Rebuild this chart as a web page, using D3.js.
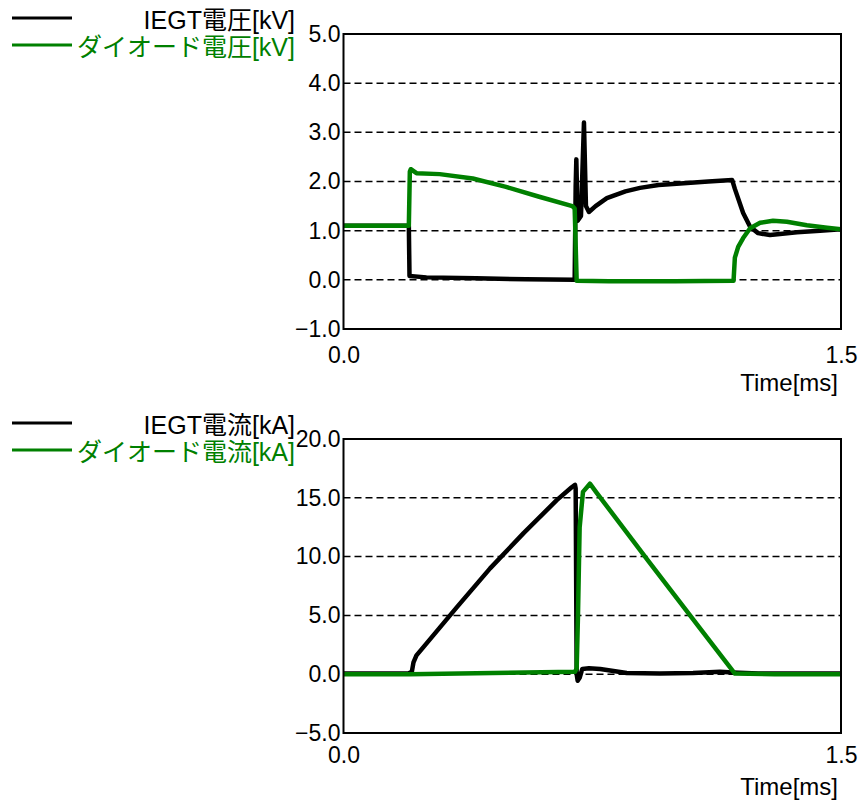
<!DOCTYPE html>
<html><head><meta charset="utf-8">
<script src="https://cdn.jsdelivr.net/npm/d3@7"></script>
<style>
html,body{margin:0;padding:0;background:#fff;}
text{font-family:"Liberation Sans","Noto Sans CJK JP",sans-serif;}
</style></head>
<body><svg id="c" width="863" height="803"></svg>
<script>
// ---------- data ----------
const xTicks = [0, 1.5];
const voltTicks = [-1, 0, 1, 2, 3, 4, 5];
const currTicks = [-5, 0, 5, 10, 15, 20];
const xLabel = "Time[ms]";
const voltNames = ["IEGT電圧[kV]", "ダイオード電圧[kV]"];
const currNames = ["IEGT電流[kA]", "ダイオード電流[kA]"];
const colors = ["#000000", "#008000"];

// [time ms, kV]
const iegtVoltage = [
  [0,1.10],[0.197,1.10],[0.199,0.08],[0.25,0.05],[0.40,0.03],[0.55,0.01],[0.697,0.0],
  [0.700,1.9],[0.702,2.45],[0.706,1.2],[0.716,1.3],[0.725,3.2],[0.731,1.5],[0.740,1.38],
  [0.76,1.5],[0.794,1.66],[0.85,1.80],[0.894,1.87],[0.95,1.93],[1.015,1.96],[1.10,2.0],
  [1.172,2.03],[1.180,1.85],[1.205,1.36],[1.226,1.08],[1.25,0.95],[1.286,0.91],[1.316,0.93],
  [1.367,0.97],[1.437,1.0],[1.5,1.03]
];
const diodeVoltage = [
  [0,1.10],[0.197,1.10],[0.200,2.2],[0.203,2.25],[0.22,2.17],[0.29,2.15],[0.39,2.06],
  [0.49,1.89],[0.59,1.69],[0.69,1.50],[0.697,1.45],[0.703,-0.02],[0.8,-0.03],[1.0,-0.03],
  [1.176,-0.02],[1.18,0.45],[1.19,0.67],[1.205,0.85],[1.226,1.05],[1.256,1.16],[1.295,1.2],
  [1.337,1.18],[1.397,1.11],[1.458,1.06],[1.5,1.03]
];
// [time ms, kA]
const iegtCurrent = [
  [0,0.05],[0.195,0.05],[0.206,0.2],[0.211,1.0],[0.22,1.6],[0.241,2.3],[0.342,5.7],[0.442,9.0],
  [0.543,12.0],[0.643,14.8],[0.688,15.9],[0.698,16.1],[0.700,15.8],[0.703,0.0],[0.706,-0.55],
  [0.712,-0.3],[0.72,0.45],[0.74,0.5],[0.774,0.45],[0.854,0.1],[0.954,0.05],[1.054,0.1],
  [1.135,0.2],[1.174,0.15],[1.25,0.05],[1.5,0.05]
];
const diodeCurrent = [
  [0,0.0],[0.2,0.0],[0.45,0.1],[0.698,0.2],[0.703,0.5],[0.707,5],[0.712,12.5],[0.722,15.5],
  [0.743,16.2],[0.764,15.4],[0.92,9.6],[1.075,3.9],[1.18,0.05],[1.3,0.0],[1.5,0.0]
];

// ---------- drawing ----------
const svg = d3.select("#c");
const L = 343.5, R = 841;
const fmt = d3.format(".1f");

function panel(top, bottom, yTicks, series, names, legendY, xLabOff) {
  const x = d3.scaleLinear().domain([xTicks[0], xTicks[xTicks.length-1]]).range([L, R]);
  const y = d3.scaleLinear().domain([yTicks[0], yTicks[yTicks.length-1]]).range([bottom, top]);
  const g = svg.append("g");

  // grid
  g.selectAll("line.grid").data(yTicks.slice(1, -1)).enter().append("line")
    .attr("x1", L).attr("x2", R).attr("y1", d => y(d)).attr("y2", d => y(d))
    .attr("stroke", "#000").attr("stroke-width", 1.5).attr("stroke-dasharray", "7,4");

  // y axis labels
  const ya = g.append("g").attr("transform", `translate(${L},0)`)
    .call(d3.axisLeft(y).tickValues(yTicks).tickFormat(fmt).tickSize(0).tickPadding(3));
  ya.select(".domain").remove();
  ya.selectAll("text").attr("font-size", 23).attr("fill", "#000")
    .attr("font-family", "Liberation Sans, sans-serif");

  // x axis labels
  const xa = g.append("g").attr("transform", `translate(0,${bottom})`)
    .call(d3.axisBottom(x).tickValues(xTicks).tickFormat(fmt).tickSize(0).tickPadding(0));
  xa.select(".domain").remove();
  xa.selectAll("text").attr("font-size", 23).attr("fill", "#000")
    .attr("y", xLabOff).attr("dy", "0.35em")
    .attr("font-family", "Liberation Sans, sans-serif");
  g.append("text").attr("x", 838).attr("y", bottom + 54).attr("dy", "0.35em")
    .attr("text-anchor", "end").attr("font-size", 24).text(xLabel);

  // lines
  const line = d3.line().x(d => x(d[0])).y(d => y(d[1]));
  const clipId = "clip" + Math.round(top);
  svg.append("clipPath").attr("id", clipId).append("rect")
    .attr("x", L).attr("y", top).attr("width", R - L).attr("height", bottom - top);
  const lg = g.append("g").attr("clip-path", `url(#${clipId})`);
  series.forEach((s, i) => {
    lg.append("path").attr("d", line(s)).attr("fill", "none")
      .attr("stroke", colors[i]).attr("stroke-width", 4.5)
      .attr("stroke-linejoin", "round").attr("stroke-linecap", "round");
  });

  // frame
  g.append("rect").attr("x", L).attr("y", top).attr("width", R - L).attr("height", bottom - top)
    .attr("fill", "none").attr("stroke", "#000").attr("stroke-width", 2);

  // legend
  names.forEach((n, i) => {
    const ly = legendY[i];
    g.append("line").attr("x1", 12).attr("x2", 72).attr("y1", ly).attr("y2", ly)
      .attr("stroke", colors[i]).attr("stroke-width", 3);
    g.append("text").attr("x", 295).attr("y", ly + 2).attr("dy", "0.35em")
      .attr("text-anchor", "end").attr("font-size", 25).attr("fill", colors[i]).text(n);
  });
}

panel(34, 329, voltTicks, [iegtVoltage, diodeVoltage], voltNames, [18, 45], 26);
panel(439, 733, currTicks, [iegtCurrent, diodeCurrent], currNames, [423, 450], 22);
</script></body></html>
